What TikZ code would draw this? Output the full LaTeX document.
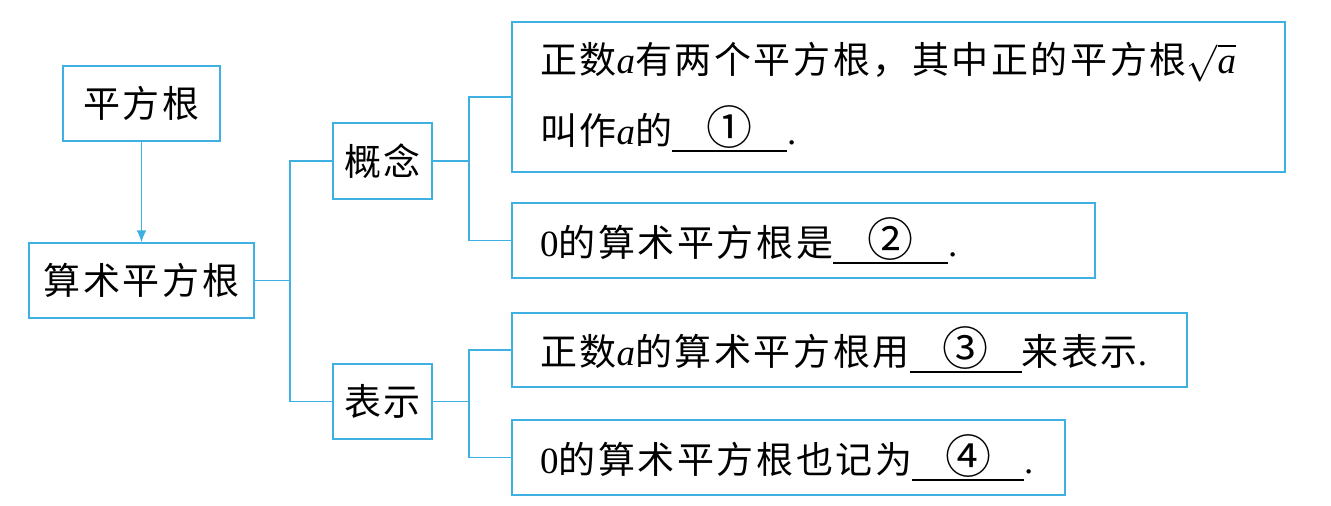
\RequirePackage{fix-cm}
\documentclass[tikz,border=0pt]{standalone}
\usepackage{amsmath}
\usepackage{fontspec}
\setmainfont{Liberation Serif}
\newfontfamily\cjk[LetterSpace=7]{Noto Sans CJK SC}
\usepackage{xcolor}
\usetikzlibrary{arrows.meta}
\definecolor{mapblue}{RGB}{62,176,226}
\newcommand{\blank}[2][115pt]{\rlap{\rule[-0.2em]{#1}{1.8pt}}\makebox[#1]{\cjk\fontsize{46}{46}\selectfont #2}}

\begin{document}
\begin{tikzpicture}[x=1pt,y=-1pt,
  blockbox/.style={draw=mapblue, line width=1.5pt, inner sep=0pt, align=center},
  textbox/.style={draw=mapblue, line width=1.5pt, inner xsep=28pt, inner ysep=0pt, align=left},
  link/.style={draw=mapblue, line width=1.5pt}]
\useasboundingbox (0,0) rectangle (1331,506);
\fontsize{37}{71}\selectfont
\node[blockbox, minimum width=157pt, minimum height=75pt] (sqroot) at (141.5,103.5) {\cjk 平方根};
\node[blockbox, minimum width=225pt, minimum height=75pt] (arith) at (141.5,280.5) {\cjk 算术平方根};
\node[blockbox, minimum width=99pt, minimum height=76pt] (concept) at (382.5,161) {\cjk 概念};
\node[blockbox, minimum width=99pt, minimum height=75pt] (notation) at (382.5,401.5) {\cjk 表示};
\node[textbox, text width=717pt, minimum height=150pt] (def1) at (898.5,97)
  {{\cjk 正数}\textit{a}{\cjk 有两个平方根，其中正的平方根}$\sqrt{\textit{a}}$\\{\cjk 叫作}\textit{a}{\cjk 的}\blank{①}.};
\node[textbox, text width=527pt, minimum height=75pt] (def2) at (803.5,240.5)
  {0{\cjk 的算术平方根是}\blank{②}.};
\node[textbox, text width=619pt, minimum height=74pt] (rep1) at (849.5,350)
  {{\cjk 正数}\textit{a}{\cjk 的算术平方根用}\blank[112pt]{③}{\cjk 来表示}.};
\node[textbox, text width=497pt, minimum height=75pt] (rep2) at (788.5,457.5)
  {0{\cjk 的算术平方根也记为}\blank[112pt]{④}.};
% connectors
\draw[link, -{Latex[length=12pt,width=10pt]}] (sqroot) -- (arith);
\draw[link] (arith.east) -- ++(35,0) coordinate (j0);
\draw[link] (concept.west) -| (j0) |- (notation.west);
\draw[link] (concept.east) -- ++(36,0) coordinate (j1);
\draw[link] (def1.west) -| (j1) |- (def2.west);
\draw[link] (notation.east) -- ++(36,0) coordinate (j2);
\draw[link] (rep1.west) -| (j2) |- (rep2.west);
\end{tikzpicture}
\end{document}
